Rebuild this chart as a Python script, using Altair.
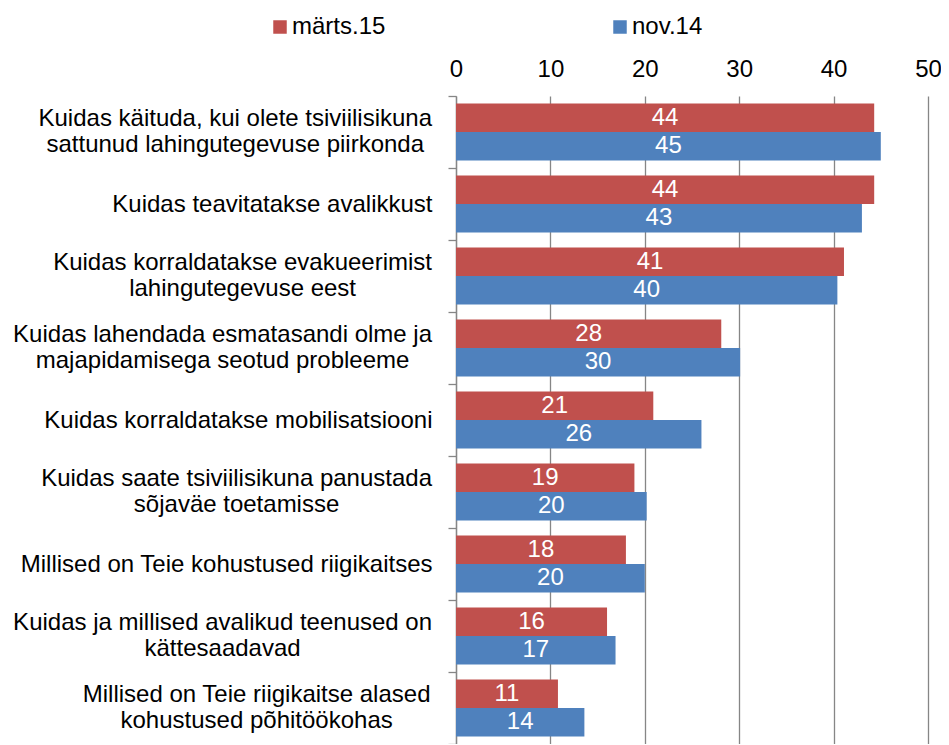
import altair as alt
import pandas as pd

FONT = "Liberation Sans, Arial, sans-serif"

categories = [
    "Kuidas käituda, kui olete tsiviilisikuna|sattunud lahingutegevuse piirkonda",
    "Kuidas teavitatakse avalikkust",
    "Kuidas korraldatakse evakueerimist|lahingutegevuse eest",
    "Kuidas lahendada esmatasandi olme ja|majapidamisega seotud probleeme",
    "Kuidas korraldatakse mobilisatsiooni",
    "Kuidas saate tsiviilisikuna panustada|sõjaväe toetamisse",
    "Millised on Teie kohustused riigikaitses",
    "Kuidas ja millised avalikud teenused on|kättesaadavad",
    "Millised on Teie riigikaitse alased|kohustused põhitöökohas",
]
series = ["märts.15", "nov.14"]
marts15 = [44.3, 44.3, 41.1, 28.1, 20.9, 18.9, 18.0, 16.0, 10.8]
nov14 = [45.0, 43.0, 40.4, 30.1, 26.0, 20.2, 20.0, 16.9, 13.6]
x_ticks = [0, 10, 20, 30, 40, 50]
colors = ["#C0504D", "#4F81BD"]

rows = []
for c, a, b in zip(categories, marts15, nov14):
    rows.append({"category": c, "series": series[0], "pct": a})
    rows.append({"category": c, "series": series[1], "pct": b})
df = pd.DataFrame(rows)

# Arial / Liberation Sans advance widths (1/1000 em) used to centre two-line labels
ADV = {" ": 278, ",": 278, ".": 278, "a": 556, "b": 556, "c": 500, "d": 556, "e": 556,
       "f": 278, "g": 556, "h": 556, "i": 222, "j": 222, "k": 500, "l": 222, "m": 833,
       "n": 556, "o": 556, "p": 556, "r": 333, "s": 500, "t": 278, "u": 556, "v": 500,
       "w": 722, "ä": 556, "õ": 556, "ö": 556, "ü": 556, "K": 667, "M": 833, "T": 611}
FS = 24
TICK, LPAD = 8, 16


def text_px(s):
    return FS * sum(ADV.get(ch, 556) for ch in s) / 1000.0


multi = [c for c in categories if "|" in c]
lab_df = pd.DataFrame({
    "category": multi,
    "lx": [-(TICK + LPAD) - max(text_px(p) for p in c.split("|")) / 2 for c in multi],
})

y_axis = alt.Axis(
    title=None,
    labelExpr="indexof(datum.label, '|') >= 0 ? '' : datum.label",
    labelFontSize=FS,
    labelFont=FONT,
    labelColor="black",
    labelLimit=0,
    labelOverlap=False,
    labelPadding=LPAD,
    tickBand="extent",
    tickSize=TICK,
    tickColor="#868686",
    tickWidth=1.3,
    domainColor="#868686",
    domainWidth=1.3,
    grid=False,
)

x_axis = alt.Axis(
    orient="top",
    values=x_ticks,
    title=None,
    labelFontSize=FS,
    labelFont=FONT,
    labelColor="black",
    labelPadding=15,
    ticks=False,
    tickSize=0,
    domain=False,
    grid=True,
    gridColor="#868686",
    gridWidth=1.3,
    labelFlush=False,
)

y_enc = alt.Y("category:N", sort=categories,
              scale=alt.Scale(paddingInner=0, paddingOuter=0), axis=y_axis)
yoff_enc = alt.YOffset("series:N", sort=series,
                       scale=alt.Scale(paddingInner=0, paddingOuter=0.263))
x_scale = alt.Scale(domain=[0, 50], nice=False)

bars = alt.Chart(df).mark_bar().encode(
    x=alt.X("pct:Q", scale=x_scale, axis=x_axis),
    y=y_enc,
    yOffset=yoff_enc,
    color=alt.Color(
        "series:N",
        sort=series,
        scale=alt.Scale(range=colors),
        legend=alt.Legend(
            orient="none",
            legendX=-188,
            legendY=-81,
            direction="horizontal",
            title=None,
            symbolType="square",
            symbolSize=182,
            symbolStrokeWidth=0,
            labelFontSize=FS,
            labelFont=FONT,
            labelColor="black",
            labelOffset=0,
            columnPadding=222,
        ),
    ),
)

texts = alt.Chart(df).transform_calculate(mid="datum.pct / 2").mark_text(
    color="white", fontSize=FS, font=FONT, align="center", baseline="middle"
).encode(
    x=alt.X("mid:Q", scale=x_scale, axis=x_axis),
    y=y_enc,
    yOffset=yoff_enc,
    text=alt.Text("pct:Q", format=".0f"),
)

two_line_labels = alt.Chart(lab_df).mark_text(
    color="black", fontSize=FS, font=FONT, align="center", baseline="line-bottom",
    lineBreak="|", lineHeight=26,
).encode(
    x=alt.X("lx:Q", scale=None),
    y=y_enc,
    text="category:N",
)

chart = alt.layer(bars, texts, two_line_labels).properties(
    width=472,
    height=648,
    padding={"left": 448, "top": 88, "right": 13, "bottom": 0},
    autosize=alt.AutoSizeParams(type="none"),
).configure_view(stroke=None)

chart.save("out.html", embed_options={"renderer": "svg", "actions": False})
